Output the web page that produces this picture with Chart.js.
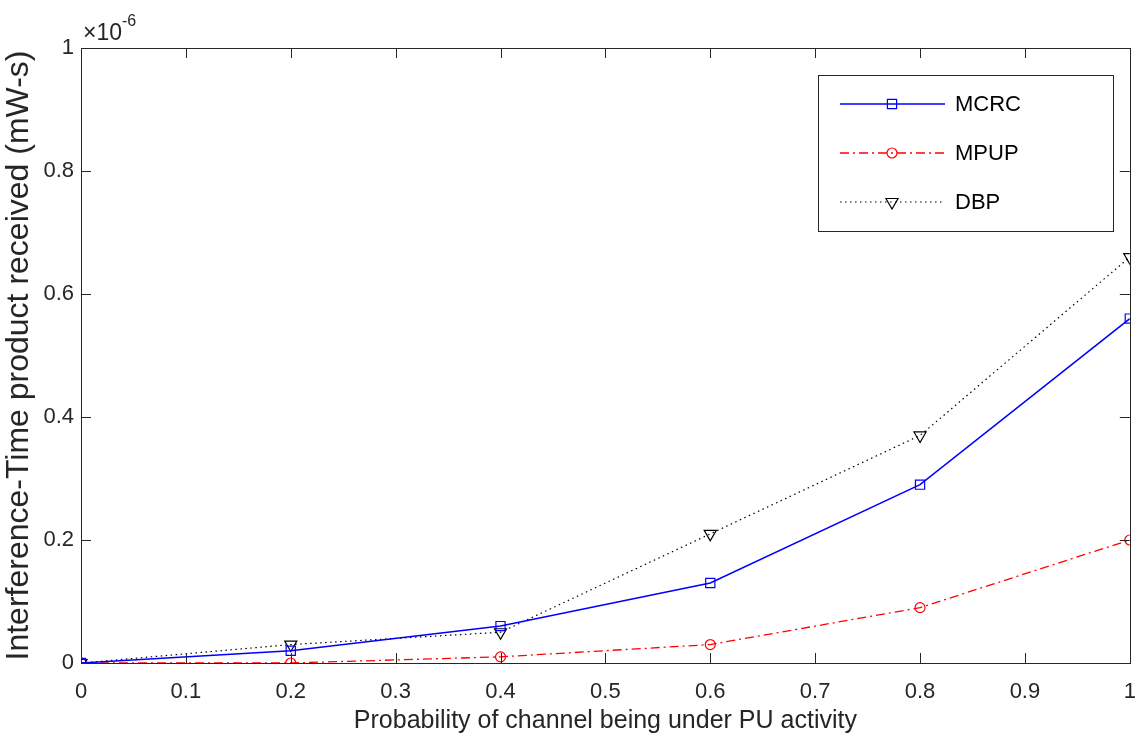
<!DOCTYPE html>
<html><head><meta charset="utf-8">
<script src="https://cdn.jsdelivr.net/npm/chart.js@4.4.1/dist/chart.umd.min.js"></script>
<style>html,body{margin:0;padding:0;background:#fff;}#wrap{width:1138px;height:736px;}</style>
</head><body><div id="wrap"><canvas id="c" width="1138" height="736"></canvas></div>
<script>
const xValues = [0, 0.2, 0.4, 0.6, 0.8, 1.0];
const mcrc = [0, 0.02, 0.06, 0.13, 0.29, 0.56];
const mpup = [0, 0, 0.01, 0.03, 0.09, 0.20];
const dbp  = [0, 0.03, 0.05, 0.21, 0.37, 0.66];
const seriesNames = ['MCRC', 'MPUP', 'DBP'];
const xTitle = 'Probability of channel being under PU activity';
const yTitle = 'Interference-Time product received (mW-s)';
const FONT = '"Liberation Sans", Arial, sans-serif';
const AX = '#262626';

const pts = arr => arr.map((v, i) => ({x: xValues[i], y: v}));
const fmt = v => String(Math.round(v * 10) / 10);

const framePlugin = {
  id: 'frame',
  afterDraw(chart) {
    const {ctx, chartArea: a, scales} = chart;
    const x = scales.x, y = scales.y;
    ctx.save();
    ctx.strokeStyle = AX; ctx.lineWidth = 1;
    ctx.strokeRect(Math.round(a.left) + 0.5, Math.round(a.top) + 0.5, Math.round(a.right - a.left), Math.round(a.bottom - a.top));
    const L = 10;
    ctx.beginPath();
    x.ticks.forEach(t => {
      const px = Math.round(x.getPixelForValue(t.value)) + 0.5;
      ctx.moveTo(px, a.bottom); ctx.lineTo(px, a.bottom - L);
      ctx.moveTo(px, a.top); ctx.lineTo(px, a.top + L);
    });
    y.ticks.forEach(t => {
      const py = Math.round(y.getPixelForValue(t.value)) + 0.5;
      ctx.moveTo(a.left, py); ctx.lineTo(a.left + L, py);
      ctx.moveTo(a.right, py); ctx.lineTo(a.right - L, py);
    });
    ctx.stroke();
    // exponent label
    ctx.fillStyle = AX;
    ctx.textBaseline = 'alphabetic';
    ctx.textAlign = 'left';
    ctx.font = '23px ' + FONT;
    ctx.fillText('\u00d710', a.left + 2, a.top - 8);
    const w = ctx.measureText('\u00d710').width;
    ctx.font = '16px ' + FONT;
    ctx.fillText('-6', a.left + 2 + w, a.top - 22);
    // legend
    const bx = 818, by = 75, bw = 295, bh = 156;
    ctx.fillStyle = '#fff';
    ctx.fillRect(bx, by, bw, bh);
    ctx.strokeStyle = AX; ctx.lineWidth = 1;
    ctx.strokeRect(bx + 0.5, by + 0.5, bw, bh);
    chart.data.datasets.forEach((ds, i) => {
      const ry = 104 + i * 49;
      ctx.save();
      ctx.strokeStyle = ds.borderColor;
      ctx.lineWidth = ds.borderWidth;
      ctx.setLineDash(ds.borderDash || []);
      ctx.beginPath(); ctx.moveTo(840, ry); ctx.lineTo(945, ry); ctx.stroke();
      ctx.setLineDash([]);
      ctx.fillStyle = 'rgba(0,0,0,0)';
      ctx.strokeStyle = ds.pointBorderColor;
      ctx.lineWidth = 1.2;
      Chart.helpers.drawPoint(ctx, {pointStyle: ds.pointStyle, radius: ds.pointRadius, rotation: ds.pointRotation || 0, borderWidth: 1.2}, 892, ry);
      ctx.restore();
      ctx.fillStyle = '#000';
      ctx.font = '22px ' + FONT;
      ctx.textBaseline = 'middle';
      ctx.textAlign = 'left';
      ctx.fillText(ds.label, 955, ry + 1);
    });
    ctx.restore();
  }
};

new Chart(document.getElementById('c'), {
  type: 'line',
  data: {
    datasets: [
      {label: seriesNames[0], data: pts(mcrc), borderColor: '#0000ff', backgroundColor: 'rgba(0,0,0,0)', borderWidth: 1.5,
       pointStyle: 'rect', pointRadius: 6.5, pointBorderWidth: 1.2, pointBackgroundColor: 'rgba(0,0,0,0)', pointBorderColor: '#0000ff'},
      {label: seriesNames[1], data: pts(mpup), borderColor: '#ff0000', backgroundColor: 'rgba(0,0,0,0)', borderWidth: 1.3, borderDash: [9, 4, 2, 4],
       pointStyle: 'circle', pointRadius: 5, pointBorderWidth: 1.2, pointBackgroundColor: 'rgba(0,0,0,0)', pointBorderColor: '#ff0000'},
      {label: seriesNames[2], data: pts(dbp), borderColor: '#000000', backgroundColor: 'rgba(0,0,0,0)', borderWidth: 1.2, borderDash: [1.5, 3.5],
       pointStyle: 'triangle', pointRotation: 180, pointRadius: 7, pointBorderWidth: 1.2, pointBackgroundColor: 'rgba(0,0,0,0)', pointBorderColor: '#000000'}
    ]
  },
  options: {
    responsive: false, animation: false, devicePixelRatio: 1,
    layout: {padding: {top: 48, right: 4, left: 0, bottom: 0}},
    plugins: {legend: {display: false}, tooltip: {enabled: false}},
    elements: {line: {tension: 0}},
    scales: {
      x: {type: 'linear', min: 0, max: 1,
          ticks: {stepSize: 0.1, color: AX, font: {family: FONT, size: 22}, padding: 16, maxRotation: 0, callback: fmt},
          grid: {display: false, drawTicks: false}, border: {display: false},
          title: {display: true, text: xTitle, color: AX, font: {family: FONT, size: 25}, padding: {top: 0, bottom: 0}},
          afterFit(s) { s.height = 73; s.paddingRight = 0; s.paddingLeft = 0; },
          afterUpdate(s) { s.paddingRight = 0; }},
      y: {type: 'linear', min: 0, max: 1,
          ticks: {stepSize: 0.2, color: AX, font: {family: FONT, size: 22}, padding: 7, callback: fmt},
          grid: {display: false, drawTicks: false}, border: {display: false},
          title: {display: true, text: yTitle, color: AX, font: {family: FONT, size: 32}, padding: {top: 0, bottom: 0}},
          afterFit(s) { s.width = 81; s.paddingTop = 0; s.paddingBottom = 0; }}
    }
  },
  plugins: [framePlugin]
});
</script></body></html>
